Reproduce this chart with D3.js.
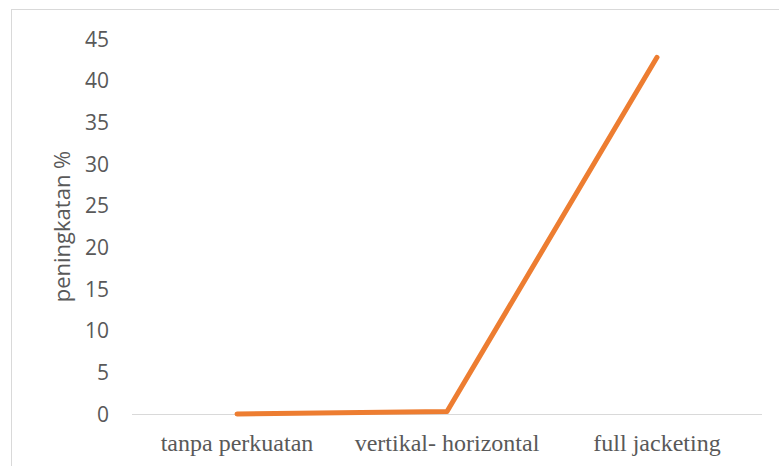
<!DOCTYPE html>
<html>
<head>
<meta charset="utf-8">
<script src="https://cdn.jsdelivr.net/npm/d3@7"></script>
<style>
  body { margin: 0; background: #fff; }
  svg { display: block; }
</style>
</head>
<body>
<svg width="779" height="466"></svg>
<script>
const categories = ['tanpa perkuatan', 'vertikal- horizontal', 'full jacketing'];
const values = [0, 0.3, 42.8];
const yTicks = [0, 5, 10, 15, 20, 25, 30, 35, 40, 45];

const svg = d3.select('svg');
const margin = { left: 132, right: 17, top: 39, bottom: 52 };
const W = 779, H = 466;

// chart border
svg.append('rect')
  .attr('x', 11.5).attr('y', 9.5)
  .attr('width', W + 10).attr('height', H + 10)
  .attr('fill', 'none').attr('stroke', '#d9d9d9');

const x = d3.scaleBand()
  .domain(categories)
  .range([margin.left, W - margin.right]);

const y = d3.scaleLinear()
  .domain([0, 45])
  .range([H - margin.bottom, margin.top]);

// y tick labels
svg.append('g')
  .selectAll('text')
  .data(yTicks)
  .join('text')
  .attr('x', 109)
  .attr('y', (d) => y(d))
  .attr('dy', '0.36em')
  .attr('text-anchor', 'end')
  .attr('font-family', 'Open Sans, Noto Sans, sans-serif')
  .attr('font-size', 21)
  .attr('fill', '#595959')
  .text((d) => d);

// zero baseline
svg.append('line')
  .attr('x1', margin.left).attr('x2', W - margin.right)
  .attr('y1', y(0) + 0.5).attr('y2', y(0) + 0.5)
  .attr('stroke', '#d9d9d9').attr('stroke-width', 1);

// category labels
svg.append('g')
  .selectAll('text')
  .data(categories)
  .join('text')
  .attr('x', (d) => x(d) + x.bandwidth() / 2)
  .attr('y', y(0) + 37)
  .attr('text-anchor', 'middle')
  .attr('font-family', 'Liberation Serif, Times New Roman, serif')
  .attr('font-size', 24)
  .attr('fill', '#595959')
  .text((d) => d);

// axis title
svg.append('text')
  .attr('transform', `translate(70, ${(y(0) + y(45)) / 2}) rotate(-90)`)
  .attr('text-anchor', 'middle')
  .attr('font-family', 'Open Sans, Noto Sans, sans-serif')
  .attr('font-size', 22)
  .attr('fill', '#595959')
  .text('peningkatan %');

// line
const line = d3.line()
  .x((d, i) => x(categories[i]) + x.bandwidth() / 2)
  .y((d) => y(d));

svg.append('path')
  .datum(values)
  .attr('d', line)
  .attr('fill', 'none')
  .attr('stroke', '#ED7D31')
  .attr('stroke-width', 5)
  .attr('stroke-linecap', 'round')
  .attr('stroke-linejoin', 'round');
</script>
</body>
</html>
